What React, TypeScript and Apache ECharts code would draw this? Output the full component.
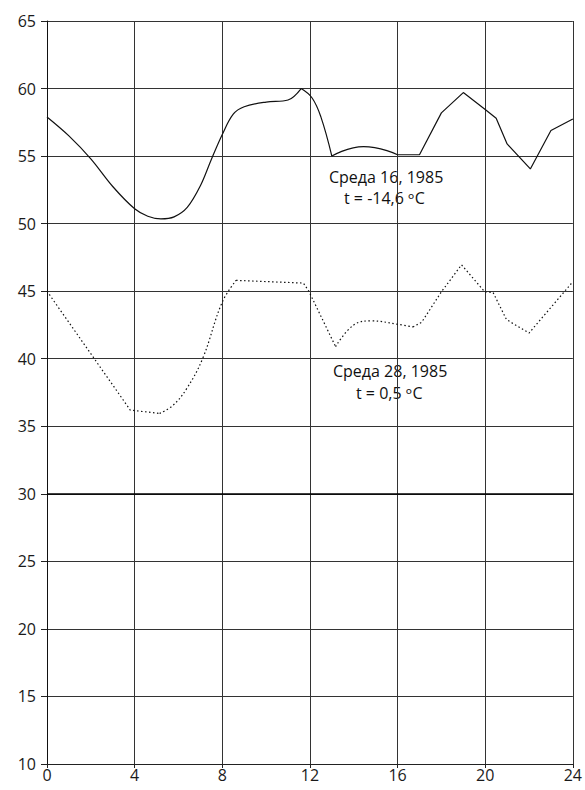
import React, { useEffect, useRef } from "react";
import * as echarts from "echarts";

// Hour ticks and value ticks
const xTicks = [0, 4, 8, 12, 16, 20, 24];
const yMin = 10;
const yMax = 65;
const yStep = 5;
const refLineValue = 30;

// Среда 16, 1985 (solid curve), read as [hour, value]
const wed16Night: number[][] = [
  [0, 57.9], [1, 56.5], [2, 54.8], [3, 52.75], [4, 51.1], [4.6, 50.55],
  [5.2, 50.35], [5.8, 50.5], [6.4, 51.2], [7, 52.8], [7.5, 54.75], [8, 56.6],
  [8.5, 58.1], [9, 58.65], [10, 59.0], [11, 59.15], [11.6, 60.0],
];
const wed16Drop: number[][] = [[11.6, 60.0], [12.1, 59.3], [12.5, 57.9], [13, 55.0]];
const wed16Arc: number[][] = [[13, 55.0], [14.45, 55.7], [16, 55.1]];
const wed16Evening: number[][] = [
  [16, 55.1], [17, 55.1], [18, 58.2], [19, 59.7], [20, 58.45], [20.5, 57.8],
  [21, 55.9], [22.06, 54.05], [23, 56.9], [24, 57.75],
];

// Среда 28, 1985 (dotted curve)
const wed28Night: number[][] = [[0, 45.0], [3.8, 36.2], [5.14, 35.95]];
const wed28Rise: number[][] = [
  [5.14, 35.95], [5.75, 36.55], [6.36, 37.75], [7.1, 40.0], [8, 44.2], [8.63, 45.8],
];
const wed28Day: number[][] = [[8.63, 45.8], [11.7, 45.6], [11.95, 45.0], [13.17, 40.9]];
const wed28Arc: number[][] = [
  [13.17, 40.9], [14.0, 42.5], [14.83, 42.8], [16, 42.55], [16.7, 42.35],
];
const wed28Evening: number[][] = [
  [16.7, 42.35], [17.1, 42.7], [18, 44.95], [18.92, 46.95], [19.98, 44.95],
  [20.36, 44.9], [20.97, 42.9], [22, 41.9], [24, 45.7],
];

const note1 = ["Среда 16, 1985", "t = -14,6 ᵒC"];
const note2 = ["Среда 28, 1985", "t = 0,5 ᵒC"];

const FONT = "'Open Sans', 'DejaVu Sans', sans-serif";

export default function App() {
  const ref = useRef<HTMLDivElement>(null);

  useEffect(() => {
    if (!ref.current) return;
    const chart = echarts.init(ref.current, undefined, { renderer: "svg" });

    const solid = { color: "#111", width: 1.2, type: "solid" as const };
    const dotted = { color: "#111", width: 1.2, type: [1.5, 2.5] as any };

    const seg = (data: number[][], smooth: boolean | number, ls: any, extra: any = {}) => ({
      type: "line",
      data,
      smooth,
      showSymbol: false,
      symbol: "none",
      lineStyle: ls,
      silent: true,
      ...extra,
    });

    chart.setOption({
      animation: false,
      backgroundColor: "#fff",
      grid: { left: 47, right: 10, top: 21, bottom: 26, containLabel: false },
      xAxis: {
        type: "value",
        min: xTicks[0],
        max: xTicks[xTicks.length - 1],
        interval: 4,
        axisLine: { show: true, lineStyle: { color: "#222", width: 1 } },
        axisTick: { show: true, length: 4, lineStyle: { color: "#222" } },
        axisLabel: { color: "#1a1a1a", fontSize: 16, fontFamily: FONT, margin: 3 },
        splitLine: { show: true, lineStyle: { color: "#333", width: 1 } },
      },
      yAxis: {
        type: "value",
        min: yMin,
        max: yMax,
        interval: yStep,
        axisLine: { show: true, lineStyle: { color: "#111", width: 1 } },
        axisTick: { show: true, length: 6, lineStyle: { color: "#222" } },
        axisLabel: { color: "#1a1a1a", fontSize: 16, fontFamily: FONT, margin: 11 },
        splitLine: { show: true, lineStyle: { color: "#333", width: 1 } },
      },
      series: [
        seg(wed16Night, 0.35, solid, {
          markLine: {
            silent: true,
            symbol: "none",
            label: { show: false },
            lineStyle: { color: "#000", width: 1.6, type: "solid" },
            data: [{ yAxis: refLineValue }],
          },
        }),
        seg(wed16Drop, 0.4, solid),
        seg(wed16Arc, 0.5, solid),
        seg(wed16Evening, false, solid),
        seg(wed28Night, false, dotted),
        seg(wed28Rise, 0.4, dotted),
        seg(wed28Day, false, dotted),
        seg(wed28Arc, 0.4, dotted),
        seg(wed28Evening, false, dotted),
      ],
      graphic: [
        { type: "text", left: 329, top: 169, style: { text: note1[0], font: `16px ${FONT}`, fill: "#111" } },
        { type: "text", left: 344, top: 190, style: { text: note1[1], font: `16px ${FONT}`, fill: "#111" } },
        { type: "text", left: 333, top: 363, style: { text: note2[0], font: `16px ${FONT}`, fill: "#111" } },
        { type: "text", left: 356, top: 385, style: { text: note2[1], font: `16px ${FONT}`, fill: "#111" } },
      ],
    });

    return () => chart.dispose();
  }, []);

  return (
    <div
      ref={ref}
      style={{ position: "fixed", left: 0, top: 0, width: 585, height: 790, background: "#fff" }}
    />
  );
}
